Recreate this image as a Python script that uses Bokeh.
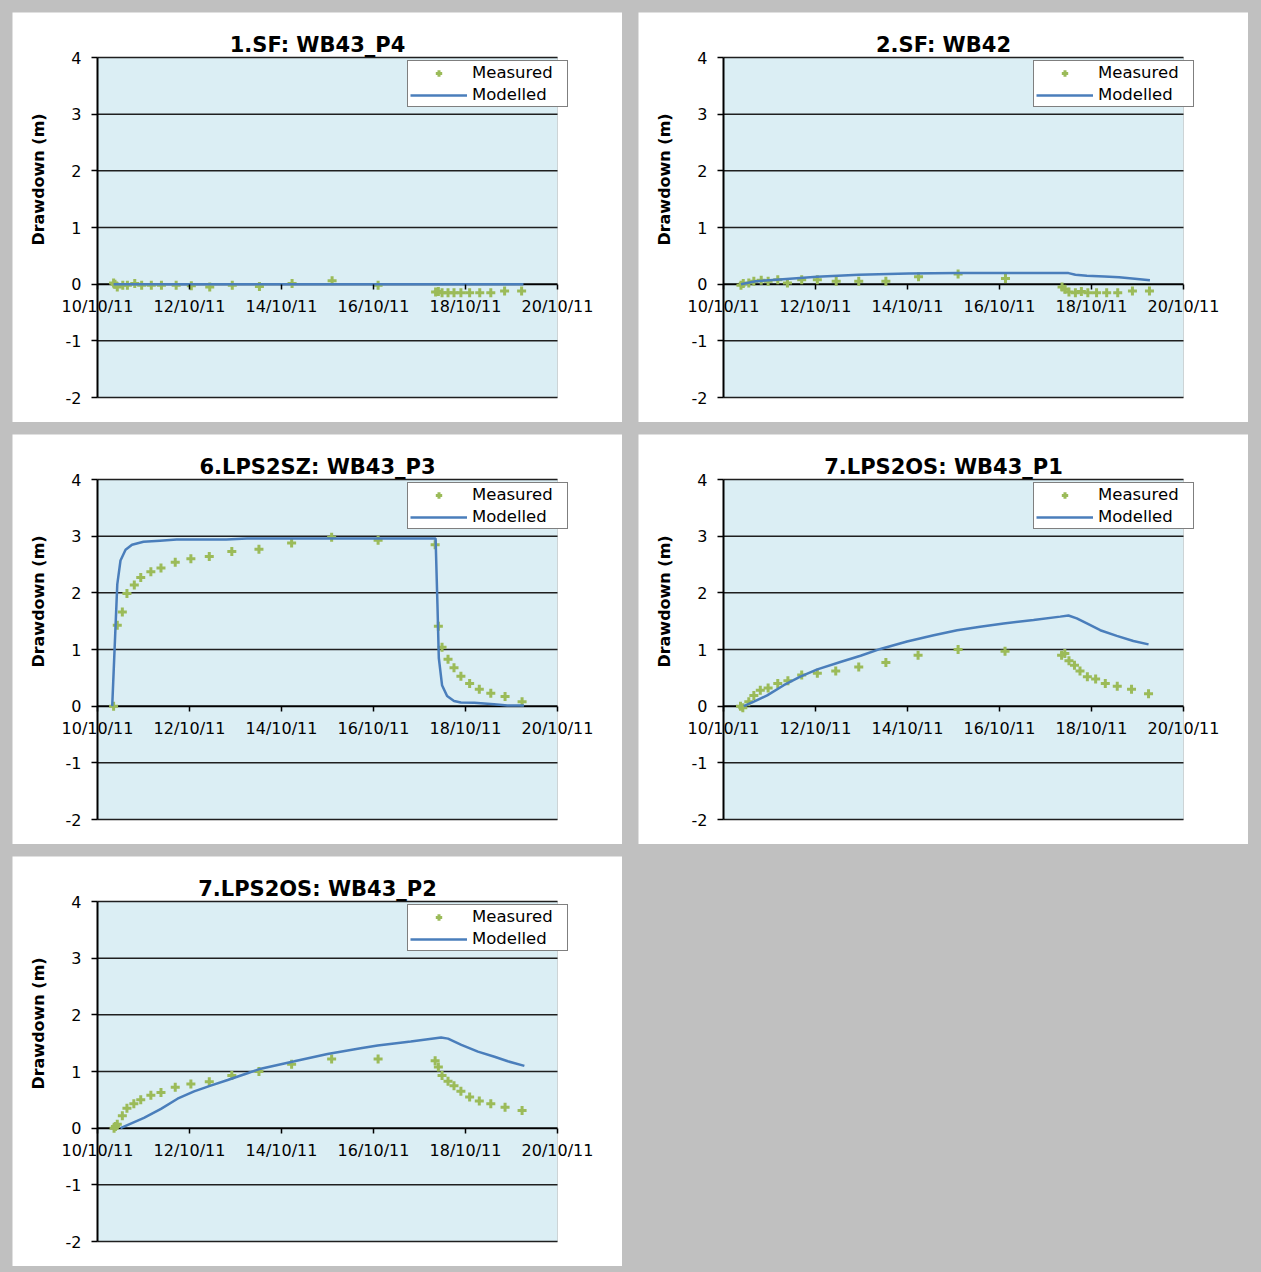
import math
from bokeh.plotting import figure
from bokeh.layouts import row, column
from bokeh.models import (Range1d, FixedTicker, Label, Legend, LegendItem, BoxAnnotation)
from bokeh.embed import file_html
from bokeh.resources import INLINE

# ---------------- data (x = day of October 2011) ----------------
X_TICKS = [10, 12, 14, 16, 18, 20]
X_LABELS = ["10/10/11", "12/10/11", "14/10/11", "16/10/11", "18/10/11", "20/10/11"]
Y_TICKS = [-2, -1, 0, 1, 2, 3, 4]
Y_LABELS = ["-2", "-1", "0", "1", "2", "3", "4"]

titles = ["1.SF: WB43_P4", "2.SF: WB42", "6.LPS2SZ: WB43_P3", "7.LPS2OS: WB43_P1", "7.LPS2OS: WB43_P2"]

# 1.SF: WB43_P4
p1_meas_t = [10.35, 10.38, 10.43, 10.55, 10.65, 10.81, 10.96, 11.17, 11.39, 11.71, 12.04, 12.44, 12.93, 13.52,
             14.23, 15.10, 16.10, 17.35, 17.41, 17.49, 17.62, 17.75, 17.90, 18.09, 18.31, 18.55, 18.85, 19.22]
p1_meas_v = [0.02, 0.0, -0.05, -0.02, -0.02, 0.01, -0.02, -0.02, -0.02, -0.02, -0.03, -0.05, -0.02, -0.04,
             0.01, 0.06, -0.02, -0.14, -0.13, -0.15, -0.15, -0.15, -0.15, -0.15, -0.15, -0.15, -0.12, -0.12]
p1_mod_t = [10.35, 12.0, 14.0, 16.0, 17.35, 18.0, 19.26]
p1_mod_v = [0.0, 0.0, 0.0, 0.0, 0.0, 0.0, 0.0]

# 2.SF: WB42
p2_meas_t = [10.38, 10.43, 10.55, 10.66, 10.82, 10.97, 11.18, 11.39, 11.70, 12.04, 12.45, 12.94, 13.53, 14.24,
             15.10, 16.13, 17.36, 17.42, 17.51, 17.65, 17.78, 17.92, 18.11, 18.33, 18.57, 18.89, 19.26]
p2_meas_v = [-0.02, 0.01, 0.02, 0.05, 0.07, 0.05, 0.08, 0.02, 0.08, 0.08, 0.05, 0.05, 0.05, 0.13,
             0.18, 0.10, -0.05, -0.09, -0.14, -0.15, -0.13, -0.15, -0.15, -0.15, -0.15, -0.12, -0.12]
p2_mod_t = [10.38, 10.7, 11.37, 12.03, 12.94, 14.02, 15.1, 16.5, 17.5, 17.65, 17.9, 18.28, 18.6, 18.94, 19.27]
p2_mod_v = [0.0, 0.05, 0.09, 0.13, 0.165, 0.19, 0.195, 0.195, 0.195, 0.165, 0.15, 0.135, 0.12, 0.095, 0.07]

# 6.LPS2SZ: WB43_P3
p3_meas_t = [10.35, 10.43, 10.54, 10.64, 10.80, 10.94, 11.16, 11.38, 11.69, 12.03, 12.43, 12.92, 13.51, 14.22,
             15.09, 16.10, 17.34, 17.41, 17.49, 17.62, 17.75, 17.90, 18.09, 18.30, 18.55, 18.86, 19.23]
p3_meas_v = [0.0, 1.43, 1.66, 1.99, 2.14, 2.27, 2.37, 2.44, 2.54, 2.60, 2.64, 2.73, 2.77, 2.88,
             2.98, 2.93, 2.85, 1.41, 1.04, 0.83, 0.68, 0.53, 0.40, 0.30, 0.23, 0.17, 0.08]
p3_mod_t = [10.32, 10.43, 10.50, 10.61, 10.75, 11.0, 11.36, 11.72, 12.8, 13.25, 17.35, 17.39, 17.42, 17.49,
            17.60, 17.75, 17.90, 18.19, 18.62, 18.91, 19.27]
p3_mod_v = [0.0, 2.15, 2.57, 2.76, 2.85, 2.90, 2.92, 2.94, 2.94, 2.96, 2.96, 1.80, 0.85, 0.37,
            0.18, 0.09, 0.065, 0.06, 0.035, 0.01, 0.01]

# 7.LPS2OS: WB43_P1
p4_meas_t = [10.37, 10.42, 10.55, 10.66, 10.80, 10.97, 11.18, 11.40, 11.70, 12.04, 12.44, 12.94, 13.53, 14.23,
             15.10, 16.12, 17.35, 17.42, 17.51, 17.63, 17.75, 17.91, 18.09, 18.30, 18.56, 18.87, 19.24]
p4_meas_v = [0.0, -0.03, 0.08, 0.19, 0.28, 0.32, 0.40, 0.45, 0.55, 0.58, 0.62, 0.69, 0.77, 0.90,
             1.00, 0.97, 0.90, 0.93, 0.80, 0.72, 0.62, 0.52, 0.48, 0.40, 0.35, 0.30, 0.22]
p4_mod_t = [10.44, 10.66, 10.95, 11.31, 11.67, 12.04, 12.54, 12.98, 13.41, 13.99, 14.57, 15.08, 15.58, 16.09,
            16.74, 17.32, 17.50, 17.68, 17.90, 18.19, 18.55, 18.91, 19.24]
p4_mod_v = [0.0, 0.08, 0.19, 0.37, 0.52, 0.65, 0.78, 0.89, 1.01, 1.14, 1.25, 1.34, 1.40, 1.46,
            1.52, 1.58, 1.60, 1.55, 1.46, 1.34, 1.24, 1.15, 1.09]

# 7.LPS2OS: WB43_P2
p5_meas_t = [10.36, 10.39, 10.43, 10.54, 10.64, 10.79, 10.94, 11.16, 11.38, 11.69, 12.03, 12.43, 12.92, 13.51,
             14.22, 15.09, 16.10, 17.34, 17.41, 17.49, 17.62, 17.75, 17.90, 18.09, 18.30, 18.55, 18.86, 19.23]
p5_meas_v = [0.0, 0.03, 0.07, 0.22, 0.35, 0.43, 0.50, 0.58, 0.63, 0.72, 0.78, 0.82, 0.93, 1.00,
             1.13, 1.22, 1.22, 1.19, 1.08, 0.93, 0.83, 0.75, 0.65, 0.55, 0.48, 0.43, 0.37, 0.31]
p5_mod_t = [10.50, 11.01, 11.38, 11.74, 12.10, 12.46, 12.83, 13.26, 13.55, 14.28, 15.0, 15.72, 16.09, 16.81,
            17.47, 17.62, 17.91, 18.27, 18.63, 18.92, 19.28]
p5_mod_v = [0.0, 0.18, 0.34, 0.52, 0.65, 0.75, 0.85, 0.97, 1.05, 1.18, 1.31, 1.41, 1.46, 1.53,
            1.60, 1.58, 1.47, 1.35, 1.26, 1.18, 1.10]

# ---------------- styling / layout ----------------
FONT = "DejaVu Sans"
PLOT_BG = "#dbeef4"
GREEN = "#9bbb59"
BLUE = "#4a7ebb"
W, H = 610, 410                 # white panel size
PL, PR, PT, PB = 85, 65, 45, 25  # plot-area insets inside the panel
PXD = (W - PL - PR) / (X_TICKS[-1] - X_TICKS[0])   # px per day
PYU = (H - PT - PB) / (Y_TICKS[-1] - Y_TICKS[0])   # px per metre
X0 = X_TICKS[0] - PL / PXD
X1 = X_TICKS[-1] + PR / PXD
Y0 = Y_TICKS[0] - PB / PYU
Y1 = Y_TICKS[-1] + PT / PYU


def dx(px):   # panel pixel -> data x
    return X0 + px / PXD


def dy(py):   # panel pixel (from top) -> data y
    return Y1 - py / PYU


def make_panel(title, mt, mv, lt, lv):
    p = figure(width=W, height=H, output_backend="svg", toolbar_location=None, title=None,
               x_range=Range1d(X0, X1), y_range=Range1d(Y0, Y1),
               min_border=0, background_fill_color="white", border_fill_color="white",
               outline_line_color=None)
    p.xgrid.visible = False
    p.ygrid.visible = False

    # plot area
    p.add_layout(BoxAnnotation(left=X_TICKS[0], right=X_TICKS[-1], bottom=Y_TICKS[0], top=Y_TICKS[-1],
                               fill_color=PLOT_BG, fill_alpha=1.0, line_color="#868686",
                               line_width=1, level="underlay"))
    # horizontal grid lines (zero line drawn as the thick category axis)
    gy = [t for t in Y_TICKS if t != 0]
    p.segment(x0=X_TICKS[0], x1=X_TICKS[-1], y0=gy, y1=gy, line_color="#1f1f1f", line_width=1.5)
    p.segment(x0=X_TICKS[0], x1=X_TICKS[-1], y0=0, y1=0, line_color="black", line_width=2)

    # y axis
    ya = p.yaxis[0]
    ya.fixed_location = X_TICKS[0]
    ya.bounds = (Y_TICKS[0], Y_TICKS[-1])
    ya.ticker = FixedTicker(ticks=Y_TICKS)
    ya.major_label_overrides = {t: s for t, s in zip(Y_TICKS, Y_LABELS)}
    ya.minor_tick_line_color = None
    ya.major_tick_out = 6
    ya.major_tick_in = 0
    ya.major_tick_line_color = "black"
    ya.major_tick_line_width = 1.5
    ya.axis_line_color = "black"
    ya.axis_line_width = 2
    ya.major_label_standoff = 10
    ya.major_label_text_font = FONT
    ya.major_label_text_font_size = "16px"
    ya.major_label_text_color = "black"

    # x axis crossing at zero
    xa = p.xaxis[0]
    xa.fixed_location = 0
    xa.bounds = (X_TICKS[0], X_TICKS[-1])
    xa.ticker = FixedTicker(ticks=X_TICKS)
    xa.major_label_overrides = {t: s for t, s in zip(X_TICKS, X_LABELS)}
    xa.minor_tick_line_color = None
    xa.major_tick_out = 5
    xa.major_tick_in = 0
    xa.major_tick_line_color = "black"
    xa.major_tick_line_width = 1.5
    xa.axis_line_color = None
    xa.major_label_standoff = 8
    xa.major_label_text_font = FONT
    xa.major_label_text_font_size = "16px"
    xa.major_label_text_color = "black"

    r_meas = p.scatter(mt, mv, marker="cross", size=9, line_color=GREEN, line_width=3)
    r_mod = p.line(lt, lv, line_color=BLUE, line_width=2.5)

    legend = Legend(items=[LegendItem(label="Measured", renderers=[r_meas]),
                           LegendItem(label="Modelled", renderers=[r_mod])],
                    location=(395, 315), padding=2, margin=0, spacing=3,
                    glyph_width=57, glyph_height=16, label_height=16, label_width=93,
                    label_standoff=5, border_line_color="black", border_line_width=1,
                    background_fill_color="white", background_fill_alpha=1.0,
                    label_text_font=FONT, label_text_font_size="16.5px", label_text_color="black")
    p.add_layout(legend)

    p.add_layout(Label(x=dx(W / 2), y=dy(32), text=title, text_align="center",
                       text_baseline="alphabetic",
                       text_font=FONT, text_font_style="bold", text_font_size="21px",
                       text_color="black"))
    p.add_layout(Label(x=dx(26), y=dy(167), text="Drawdown (m)", angle=math.pi / 2,
                       text_align="center", text_baseline="middle",
                       text_font=FONT, text_font_style="bold", text_font_size="16px",
                       text_color="black"))
    return p


panels = [
    make_panel(titles[0], p1_meas_t, p1_meas_v, p1_mod_t, p1_mod_v),
    make_panel(titles[1], p2_meas_t, p2_meas_v, p2_mod_t, p2_mod_v),
    make_panel(titles[2], p3_meas_t, p3_meas_v, p3_mod_t, p3_mod_v),
    make_panel(titles[3], p4_meas_t, p4_meas_v, p4_mod_t, p4_mod_v),
    make_panel(titles[4], p5_meas_t, p5_meas_v, p5_mod_t, p5_mod_v),
]

lay = column(row(panels[0], panels[1], spacing=16),
             row(panels[2], panels[3], spacing=16),
             row(panels[4]),
             spacing=12, margin=(12, 0, 0, 12))

html = file_html(lay, INLINE)
html = html.replace("</head>", "<style>html, body { background-color: #c0c0c0 !important; }</style>\n</head>", 1)
open("out.html", "w").write(html)
